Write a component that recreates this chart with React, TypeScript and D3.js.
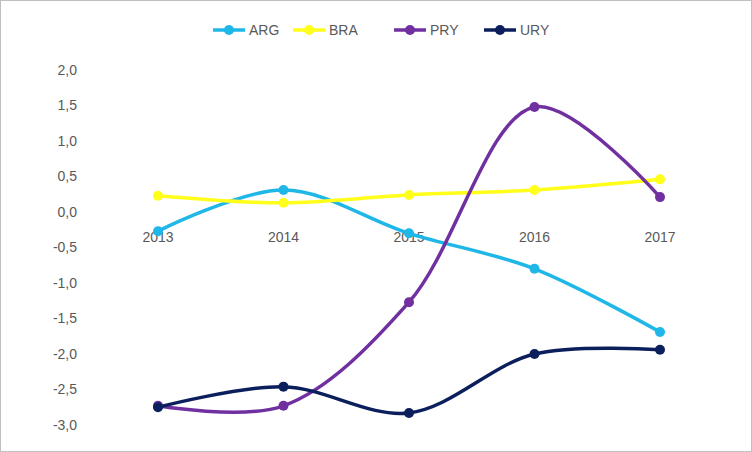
import { useEffect } from 'react';
import * as d3 from 'd3';

const years = ['2013', '2014', '2015', '2016', '2017'];
const ARG = [-0.27, 0.31, -0.3, -0.8, -1.69];
const BRA = [0.23, 0.13, 0.24, 0.31, 0.46];
const PRY = [-2.73, -2.73, -1.27, 1.48, 0.21];
const URY = [-2.75, -2.46, -2.83, -2.0, -1.94];
const yTicks = [2, 1.5, 1, 0.5, 0, -0.5, -1, -1.5, -2, -2.5, -3];

const SERIES = [
  { name: 'ARG', values: ARG, color: '#1fb6e8' },
  { name: 'BRA', values: BRA, color: '#ffff1a' },
  { name: 'PRY', values: PRY, color: '#7030a0' },
  { name: 'URY', values: URY, color: '#0b1f5c' },
];

const W = 752;
const H = 452;

export default function App() {
  useEffect(() => {
    document.body.style.margin = '0';
  }, []);

  const x = d3.scalePoint<string>().domain(years).range([158, 660]);
  const y = d3.scaleLinear().domain([-3, 2]).range([425, 70]);
  const line = d3
    .line<number>()
    .x((_d, i) => x(years[i])!)
    .y((d) => y(d))
    .curve(d3.curveCatmullRom.alpha(0.5));

  const fmt = (v: number) => v.toFixed(1).replace('.', ',');
  const font = '"Liberation Sans", Arial, sans-serif';
  const legendX = [213, 293, 394, 484];

  return (
    <svg width={W} height={H} style={{ display: 'block', fontFamily: font }}>
      <rect x={0.5} y={0.5} width={W - 1} height={H - 1} fill="#fff" stroke="#bfbfbf" />
      {yTicks.map((t) => (
        <text key={t} x={77} y={y(t)} dy="0.35em" textAnchor="end" fontSize={14} fill="#595959">
          {fmt(t)}
        </text>
      ))}
      {years.map((yr) => (
        <text key={yr} x={x(yr)} y={y(0) + 30} textAnchor="middle" fontSize={14} fill="#595959">
          {yr}
        </text>
      ))}
      {SERIES.map((s) => (
        <g key={s.name}>
          <path d={line(s.values)!} fill="none" stroke={s.color} strokeWidth={3.5} />
          {s.values.map((v, i) => (
            <circle key={i} cx={x(years[i])} cy={y(v)} r={5} fill={s.color} />
          ))}
        </g>
      ))}
      {SERIES.map((s, i) => (
        <g key={s.name} transform={`translate(${legendX[i]},30)`}>
          <line x1={0} x2={32} y1={0} y2={0} stroke={s.color} strokeWidth={3.5} />
          <circle cx={16} cy={0} r={5} fill={s.color} />
          <text x={36} y={0} dy="0.35em" fontSize={14} fill="#595959">
            {s.name}
          </text>
        </g>
      ))}
    </svg>
  );
}
